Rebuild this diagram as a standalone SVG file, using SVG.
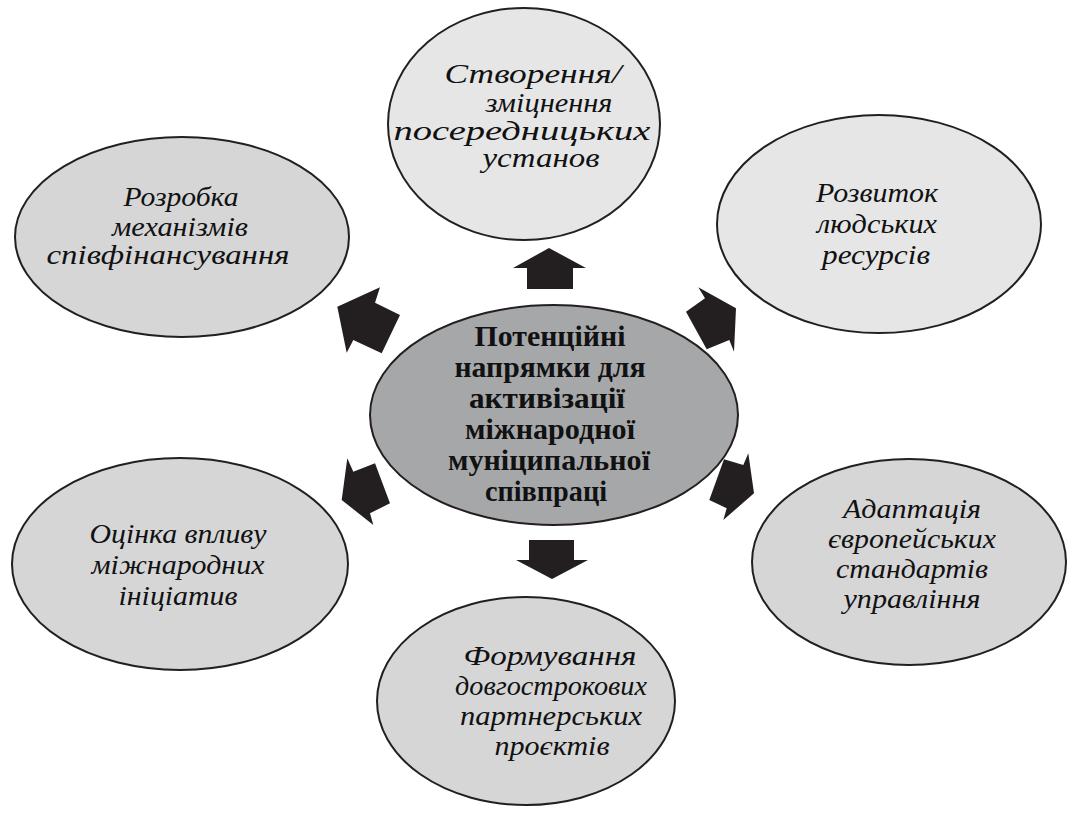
<svg xmlns="http://www.w3.org/2000/svg" width="1068" height="814" viewBox="0 0 1068 814">
<style>
.e{stroke:#231f20;stroke-width:2}
.t{font-family:"Liberation Serif","Times New Roman",serif;font-style:italic;font-size:28px;fill:#111;text-anchor:middle}
.c{font-family:"Liberation Serif","Times New Roman",serif;font-weight:bold;font-size:29px;fill:#111;text-anchor:middle}
.a{fill:#231f20}
</style>
<rect width="1068" height="814" fill="#fff"/>
<g id="node-top">
<ellipse class="e" cx="524" cy="124" rx="136" ry="116" fill="#e6e6e6"/>
<text class="t" x="533" y="83" textLength="177" lengthAdjust="spacingAndGlyphs">Створення/</text>
<text class="t" x="549" y="112" textLength="127" lengthAdjust="spacingAndGlyphs">зміцнення</text>
<text class="t" x="522" y="140" textLength="257" lengthAdjust="spacingAndGlyphs">посередницьких</text>
<text class="t" x="541" y="167" textLength="117" lengthAdjust="spacingAndGlyphs">установ</text>
</g>
<g id="node-topleft">
<ellipse class="e" cx="182" cy="237" rx="167" ry="100" fill="#d6d6d7"/>
<text class="t" x="181" y="206" textLength="115" lengthAdjust="spacingAndGlyphs">Розробка</text>
<text class="t" x="180" y="236" textLength="136" lengthAdjust="spacingAndGlyphs">механізмів</text>
<text class="t" x="168" y="264" textLength="243" lengthAdjust="spacingAndGlyphs">співфінансування</text>
</g>
<g id="node-topright">
<ellipse class="e" cx="879" cy="224" rx="162" ry="109" fill="#e6e6e6"/>
<text class="t" x="877" y="202" textLength="122" lengthAdjust="spacingAndGlyphs">Розвиток</text>
<text class="t" x="877" y="233" textLength="120" lengthAdjust="spacingAndGlyphs">людських</text>
<text class="t" x="876" y="264" textLength="108" lengthAdjust="spacingAndGlyphs">ресурсів</text>
</g>
<g id="node-center">
<ellipse class="e" cx="554" cy="415" rx="184" ry="110" fill="#a6a7a9"/>
<text class="c" x="550" y="346" textLength="151" lengthAdjust="spacingAndGlyphs">Потенційні</text>
<text class="c" x="550" y="377" textLength="191" lengthAdjust="spacingAndGlyphs">напрямки для</text>
<text class="c" x="547" y="408" textLength="156" lengthAdjust="spacingAndGlyphs">активізації</text>
<text class="c" x="550" y="439" textLength="170" lengthAdjust="spacingAndGlyphs">міжнародної</text>
<text class="c" x="549" y="470" textLength="202" lengthAdjust="spacingAndGlyphs">муніципальної</text>
<text class="c" x="546" y="501" textLength="122" lengthAdjust="spacingAndGlyphs">співпраці</text>
</g>
<g id="node-bottomleft">
<ellipse class="e" cx="180" cy="564" rx="168" ry="106" fill="#d6d6d7"/>
<text class="t" x="178" y="543" textLength="177" lengthAdjust="spacingAndGlyphs">Оцінка впливу</text>
<text class="t" x="178" y="574" textLength="173" lengthAdjust="spacingAndGlyphs">міжнародних</text>
<text class="t" x="178" y="605" textLength="119" lengthAdjust="spacingAndGlyphs">ініціатив</text>
</g>
<g id="node-bottomright">
<ellipse class="e" cx="909" cy="562" rx="157" ry="103" fill="#d6d6d7"/>
<text class="t" x="912" y="518" textLength="138" lengthAdjust="spacingAndGlyphs">Адаптація</text>
<text class="t" x="912" y="548" textLength="168" lengthAdjust="spacingAndGlyphs">європейських</text>
<text class="t" x="912" y="578" textLength="152" lengthAdjust="spacingAndGlyphs">стандартів</text>
<text class="t" x="912" y="608" textLength="137" lengthAdjust="spacingAndGlyphs">управління</text>
</g>
<g id="node-bottom">
<ellipse class="e" cx="526" cy="701" rx="149" ry="104" fill="#d6d6d7"/>
<text class="t" x="550" y="665" textLength="173" lengthAdjust="spacingAndGlyphs">Формування</text>
<text class="t" x="551" y="695" textLength="192" lengthAdjust="spacingAndGlyphs">довгострокових</text>
<text class="t" x="551" y="725" textLength="182" lengthAdjust="spacingAndGlyphs">партнерських</text>
<text class="t" x="552" y="755" textLength="115" lengthAdjust="spacingAndGlyphs">проєктів</text>
</g>
<g id="connectors">
<polygon class="a" points="549,248 586,268 573,268 573,289 527,289 527,268 513,268"/>
<polygon class="a" points="529,540 574,540 574,560 588,560 552,579 516,560 529,560"/>
<polygon class="a" points="337.3,306.7 380,287.3 375,302.7 400,315 381.7,353.3 353.3,340 346.7,352.7"/>
<polygon class="a" points="698.3,287.3 736,308.3 734,351.7 729.3,340 706.7,349.3 686,311.7 705,298.3"/>
<polygon class="a" points="347.3,458.3 353.3,471.7 375,463.3 390,503.3 370,513.3 373.3,525 341.7,500"/>
<polygon class="a" points="748.3,453.3 754,493.3 723.3,520 726.7,508.3 709.3,500 724,459.3 743.3,465"/>
</g>
</svg>
